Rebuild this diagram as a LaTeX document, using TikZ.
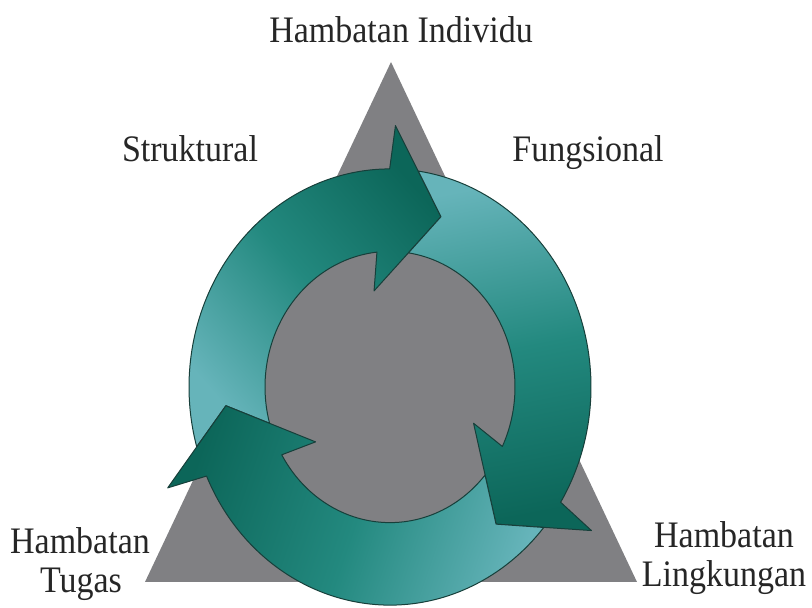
\documentclass[tikz,border=0pt]{standalone}
\usepackage{fontspec}
\setmainfont{Liberation Serif}
\definecolor{triGray}{HTML}{808083}
\definecolor{tealLight}{HTML}{66B4BA}
\definecolor{tealMid}{HTML}{23897F}
\definecolor{tealDark}{HTML}{0C6659}
\definecolor{edgeDark}{HTML}{173F3A}
\definecolor{labelInk}{HTML}{262626}
\begin{document}
\begin{tikzpicture}[x=1pt,y=1pt,
  lbl/.style={font=\fontsize{34}{38}\selectfont, text=labelInk, inner sep=0pt, anchor=base, yscale=1.1, transform shape},
  arrowshape/.style={draw=edgeDark, line width=1pt, line join=round}]
\useasboundingbox (0,0) rectangle (812,608);
% triangle
\fill[triGray] (391,546) -- (637,26) -- (145,26) -- cycle;
% ring of three circular arrows
\begin{scope}[shift={(390,221)}, yscale=1.085]
  \fill[triGray] (0,0) circle[radius=125];
  \foreach \t/\p/\ang in {72/186/-49, -50/72/-169, -174/-50/71}{
    \pgfmathsetmacro\aA{\t+16.7}
    \pgfmathsetmacro\aB{\t+18.1}
    \pgfmathsetmacro\aC{\p+9.9}
    \pgfmathsetmacro\aD{\p+9.5}
    \pgfmathsetmacro\aE{\t+24}
    \pgfmathsetmacro\aF{\t+28.2}
    \shade[arrowshape, top color=tealDark, bottom color=tealLight, middle color=tealMid, shading angle=\ang]
      (\t:165) -- (\aA:241) -- (\aB:201)
      arc[start angle=\aB, end angle=\aC, radius=201]
      -- (\p:165) -- (\aD:125)
      arc[start angle=\aD, end angle=\aE, radius=125]
      -- (\aF:90) -- cycle;
  }
\end{scope}
% labels
\node[lbl] (lblTop) at (401,565) {Hambatan Individu};
\node[lbl] (lblStruk) at (190,446) {Struktural};
\node[lbl] (lblFungs) at (588,446) {Fungsional};
\node[lbl] (lblTugasA) at (80,54) {Hambatan};
\node[lbl] (lblTugasB) at (81,15) {Tugas};
\node[lbl] (lblLingA) at (724,60) {Hambatan};
\node[lbl] (lblLingB) at (724,21) {Lingkungan};
\end{tikzpicture}
\end{document}
